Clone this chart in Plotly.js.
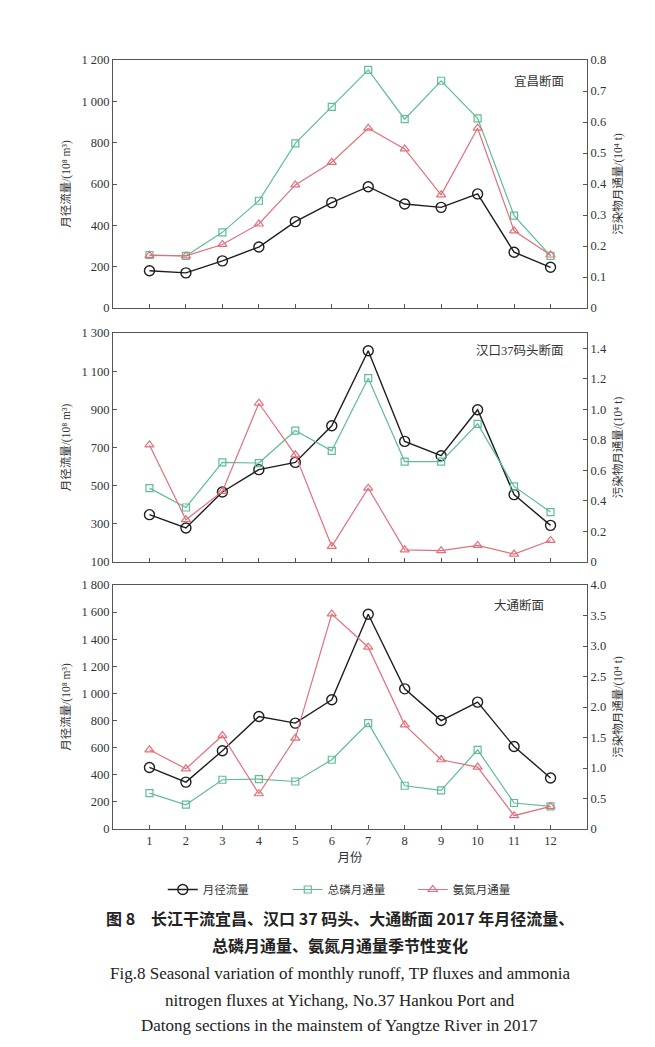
<!DOCTYPE html>
<html><head><meta charset="utf-8">
<script src="https://cdn.plot.ly/plotly-3.0.1.min.js"></script>
<style>html,body{margin:0;padding:0;background:#fff}#chart{width:655px;height:1047px}</style>
</head><body><div id="chart"></div>
<script>
const months = [1,2,3,4,5,6,7,8,9,10,11,12];
const monthLabels = ['1','2','3','4','5','6','7','8','9','10','11','12'];
// 宜昌断面
const ycRunoff = [180,170,228,295,418,510,587,503,487,552,270,197];
const ycTP = [0.171,0.168,0.244,0.346,0.531,0.649,0.768,0.609,0.733,0.612,0.298,0.168];
const ycNH = [0.170,0.168,0.205,0.271,0.397,0.470,0.580,0.513,0.365,0.580,0.249,0.171];
// 汉口37码头断面
const hkRunoff = [348,278,467,584,622,814,1207,732,657,898,453,292];
const hkTP = [0.484,0.357,0.652,0.648,0.861,0.728,1.204,0.658,0.658,0.905,0.495,0.327];
const hkNH = [0.767,0.277,0.462,1.040,0.702,0.102,0.484,0.080,0.074,0.109,0.052,0.141];
// 大通断面
const dtRunoff = [454,346,577,830,781,953,1584,1034,800,936,609,376];
const dtTP = [0.589,0.398,0.807,0.819,0.779,1.135,1.736,0.709,0.632,1.298,0.426,0.370];
const dtNH = [1.298,0.987,1.532,0.578,1.490,3.525,2.980,1.708,1.135,1.015,0.218,0.370];

const seriesNames = ['月径流量','总磷月通量','氨氮月通量'];
const sectionNames = ['宜昌断面','汉口37码头断面','大通断面'];

const leftTicks1 = [0,200,400,600,800,1000,1200];
const leftText1 = ['0','200','400','600','800','1 000','1 200'];
const rightTicks1 = [0,0.1,0.2,0.3,0.4,0.5,0.6,0.7,0.8];
const rightText1 = ['0','0.1','0.2','0.3','0.4','0.5','0.6','0.7','0.8'];
const leftTicks2 = [100,300,500,700,900,1100,1300];
const leftText2 = ['100','300','500','700','900','1 100','1 300'];
const rightTicks2 = [0,0.2,0.4,0.6,0.8,1.0,1.2,1.4];
const rightText2 = ['0','0.2','0.4','0.6','0.8','1.0','1.2','1.4'];
const leftTicks3 = [0,200,400,600,800,1000,1200,1400,1600,1800];
const leftText3 = ['0','200','400','600','800','1 000','1 200','1 400','1 600','1 800'];
const rightTicks3 = [0,0.5,1.0,1.5,2.0,2.5,3.0,3.5,4.0];
const rightText3 = ['0','0.5','1.0','1.5','2.0','2.5','3.0','3.5','4.0'];

const BLACK = '#1e1e1e', GREEN = '#5fbe93', RED = '#e2707a';
const FONT = 'Liberation Serif, "Noto Sans CJK SC", serif';

function trio(xa, yl, yr, runoff, tp, nh, show) {
  return [
    {x: months, y: runoff, xaxis: xa, yaxis: yl, name: seriesNames[0], showlegend: show, mode: 'lines+markers',
     line: {color: BLACK, width: 1.4}, marker: {symbol: 'circle-open', size: 10, color: BLACK, line: {width: 1.4}}},
    {x: months, y: tp, xaxis: xa, yaxis: yr, name: seriesNames[1], showlegend: show, mode: 'lines+markers',
     line: {color: GREEN, width: 1.2}, marker: {symbol: 'square-open', size: 7, color: GREEN, line: {width: 1.2}}},
    {x: months, y: nh, xaxis: xa, yaxis: yr, name: seriesNames[2], showlegend: show, mode: 'lines+markers',
     line: {color: RED, width: 1.2}, marker: {symbol: 'triangle-up-open', size: 8, color: RED, line: {width: 1.2}}}
  ];
}

const data = [].concat(
  trio('x', 'y', 'y2', ycRunoff, ycTP, ycNH, true),
  trio('x2', 'y3', 'y4', hkRunoff, hkTP, hkNH, false),
  trio('x3', 'y5', 'y6', dtRunoff, dtTP, dtNH, false)
);

const axLine = {showline: true, linecolor: '#555', linewidth: 1, showgrid: false, zeroline: false,
  ticks: 'inside', ticklen: 4, tickcolor: '#555', tickfont: {family: FONT, size: 12.5, color: '#333'}};

function xAxis(anchor, showLabels, title) {
  const ax = Object.assign({}, axLine, {anchor: anchor, range: [0, 13], tickmode: 'array', tickvals: months,
    ticktext: monthLabels, showticklabels: showLabels, mirror: true, domain: [0, 1]});
  if (title) ax.title = {text: title, font: {family: FONT, size: 12.5, color: '#333'}, standoff: 6};
  return ax;
}
function leftAxis(anchor, domain, range, tv, tt) {
  return Object.assign({}, axLine, {anchor: anchor, domain: domain, range: range, tickmode: 'array', tickvals: tv, ticktext: tt,
    title: {text: '月径流量/(10⁸ m³)', font: {family: FONT, size: 11.5, color: '#333'}, standoff: 8}});
}
function rightAxis(anchor, over, range, tv, tt) {
  return Object.assign({}, axLine, {anchor: anchor, overlaying: over, side: 'right', range: range, tickmode: 'array', tickvals: tv, ticktext: tt,
    title: {text: '污染物月通量/(10⁴ t)', font: {family: FONT, size: 11.5, color: '#333'}, standoff: 8}});
}

const H = 769, BOT = 829;
const py = p => (BOT - p) / H;

const layout = {
  width: 655, height: 1047,
  margin: {l: 113, r: 68, t: 60, b: 218},
  paper_bgcolor: '#fff', plot_bgcolor: '#fff',
  font: {family: FONT, color: '#333'},
  xaxis: xAxis('y', false, ''),
  xaxis2: xAxis('y3', false, ''),
  xaxis3: xAxis('y5', true, '月份'),
  yaxis: leftAxis('x', [py(308), py(60)], [0, 1200], leftTicks1, leftText1),
  yaxis2: rightAxis('x', 'y', [0, 0.8], rightTicks1, rightText1),
  yaxis3: leftAxis('x2', [py(562), py(333)], [100, 1300], leftTicks2, leftText2),
  yaxis4: rightAxis('x2', 'y3', [0, 1.5], rightTicks2, rightText2),
  yaxis5: leftAxis('x3', [0, py(585)], [0, 1800], leftTicks3, leftText3),
  yaxis6: rightAxis('x3', 'y5', [0, 4.0], rightTicks3, rightText3),
  showlegend: true,
  legend: {orientation: 'h', x: 0.105, xanchor: 'left', y: py(875), yanchor: 'top',
    font: {family: FONT, size: 11.5, color: '#333'}, itemwidth: 30, entrywidth: 80, entrywidthmode: 'pixels'},
  annotations: [
    {text: sectionNames[0], xref: 'paper', yref: 'paper', x: 0.955, y: py(82), xanchor: 'right', yanchor: 'middle', showarrow: false, font: {family: FONT, size: 12.5, color: '#333'}},
    {text: sectionNames[1], xref: 'paper', yref: 'paper', x: 0.955, y: py(350), xanchor: 'right', yanchor: 'middle', showarrow: false, font: {family: FONT, size: 12.5, color: '#333'}},
    {text: sectionNames[2], xref: 'paper', yref: 'paper', x: 0.913, y: py(605), xanchor: 'right', yanchor: 'middle', showarrow: false, font: {family: FONT, size: 12.5, color: '#333'}},
    {text: '<b>图 8　长江干流宜昌、汉口 37 码头、大通断面 2017 年月径流量、</b>', xref: 'paper', yref: 'paper', x: 0.478, y: py(918), xanchor: 'center', yanchor: 'middle', showarrow: false, font: {family: '"Noto Sans CJK SC", sans-serif', size: 16, color: '#222'}},
    {text: '<b>总磷月通量、氨氮月通量季节性变化</b>', xref: 'paper', yref: 'paper', x: 0.478, y: py(945), xanchor: 'center', yanchor: 'middle', showarrow: false, font: {family: '"Noto Sans CJK SC", sans-serif', size: 16, color: '#222'}},
    {text: 'Fig.8 Seasonal variation of monthly runoff, TP fluxes and ammonia', xref: 'paper', yref: 'paper', x: 0.478, y: py(973), xanchor: 'center', yanchor: 'middle', showarrow: false, font: {family: 'Liberation Serif, serif', size: 17, color: '#222'}},
    {text: 'nitrogen fluxes at Yichang, No.37 Hankou Port and', xref: 'paper', yref: 'paper', x: 0.478, y: py(1000), xanchor: 'center', yanchor: 'middle', showarrow: false, font: {family: 'Liberation Serif, serif', size: 17, color: '#222'}},
    {text: 'Datong sections in the mainstem of Yangtze River in 2017', xref: 'paper', yref: 'paper', x: 0.478, y: py(1025), xanchor: 'center', yanchor: 'middle', showarrow: false, font: {family: 'Liberation Serif, serif', size: 17, color: '#222'}}
  ]
};

Plotly.newPlot('chart', data, layout, {displayModeBar: false, staticPlot: true});
</script>
</body></html>
